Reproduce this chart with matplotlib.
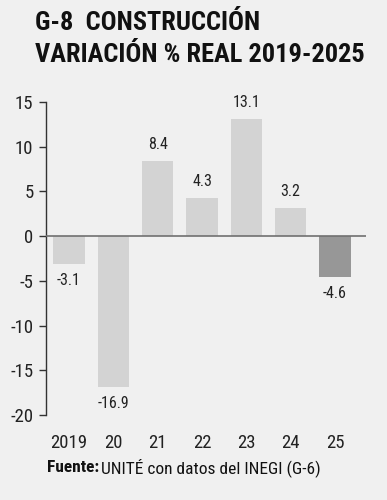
import matplotlib.pyplot as plt
from matplotlib import font_manager

years = ["2019", "20", "21", "22", "23", "24", "25"]
values = [-3.1, -16.9, 8.4, 4.3, 13.1, 3.2, -4.6]
labels = ["-3.1", "-16.9", "8.4", "4.3", "13.1", "3.2", "-4.6"]
bar_colors = ["#d3d3d3"] * 6 + ["#979797"]
yticks = [15, 10, 5, 0, -5, -10, -15, -20]

names = {f.name for f in font_manager.fontManager.ttflist}
fam = [n for n in ["Liberation Sans Narrow", "Roboto Condensed", "Roboto"] if n in names] + ["DejaVu Sans"]
plt.rcParams['font.family'] = fam

bg = "#f0f0f0"
fig = plt.figure(figsize=(3.87, 5), dpi=100, facecolor=bg)
ax = fig.add_axes([46 / 387, 0.17, 320 / 387, 0.626], facecolor=bg)

x = list(range(len(years)))
ax.bar(x, values, width=0.71, color=bar_colors, zorder=2)
ax.axhline(0, color="#707070", lw=1.2, zorder=3)

for i, (v, t) in enumerate(zip(values, labels)):
    if v >= 0:
        ax.text(i, v + 1.0, t, ha="center", va="bottom", fontsize=11.5, color="#222222")
    else:
        ax.text(i, v - 1.0, t, ha="center", va="top", fontsize=11.5, color="#222222")

ax.set_xlim(-0.52, 6.7)
ax.set_ylim(-20, 15)
ax.set_yticks(yticks)
ax.set_yticklabels([str(t) for t in yticks], fontsize=13.5, color="#222222")
ax.set_xticks(x)
ax.set_xticklabels(years, fontsize=13.5, color="#222222")
ax.tick_params(axis="x", length=0, pad=14)
ax.tick_params(axis="y", length=5, width=1, color="#333333", pad=4)
for s in ["top", "right", "bottom"]:
    ax.spines[s].set_visible(False)
ax.spines["left"].set_color("#333333")
ax.spines["left"].set_linewidth(1)

fig.text(35 / 387, 1 - 23 / 500, "G-8  CONSTRUCCIÓN", fontsize=19, fontweight="bold",
         va="center", ha="left", color="#111111")
fig.text(35 / 387, 1 - 55 / 500, "VARIACIÓN % REAL 2019-2025", fontsize=19, fontweight="bold",
         va="center", ha="left", color="#111111")

t1 = fig.text(47 / 387, 1 - 468 / 500, "Fuente:", fontsize=12.5, fontweight="bold",
              va="center", ha="left", color="#111111")
fig.canvas.draw()
bb = t1.get_window_extent()
fig.text((bb.x1 + 2) / 387, 1 - 468 / 500, "UNITÉ con datos del INEGI (G-6)", fontsize=12.5,
         va="center", ha="left", color="#111111")

fig.savefig("out.png", dpi=100, facecolor=bg)
